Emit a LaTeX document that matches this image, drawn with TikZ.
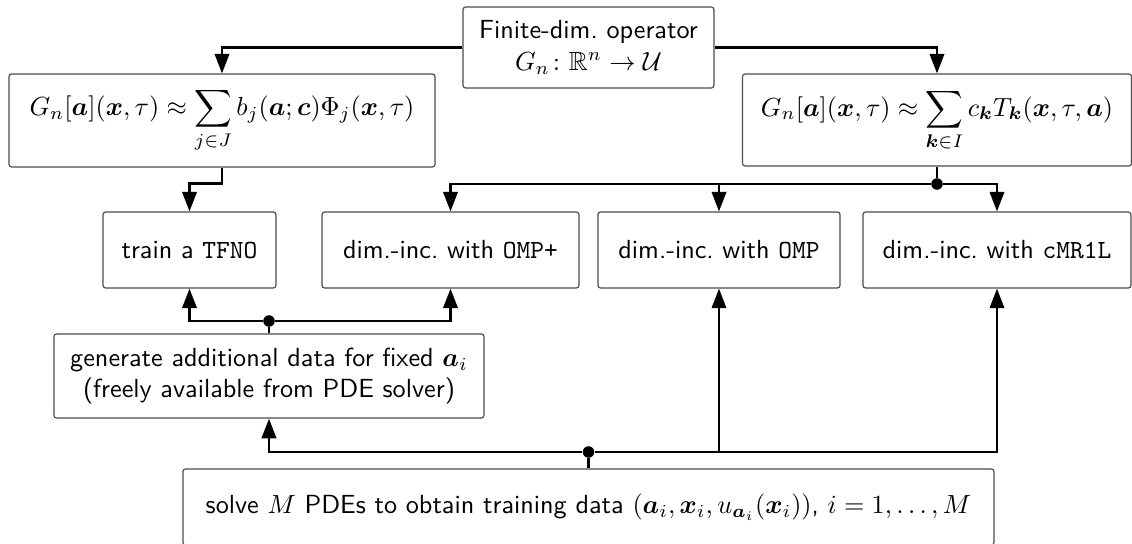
\documentclass[tikz,border=0pt]{standalone}
\usepackage{amsmath,amssymb,bm}
\usetikzlibrary{arrows.meta}

\begin{document}
\begin{tikzpicture}[x=0.3817pt, y=-0.3817pt,
    flowbox/.style={draw=black!70, rounded corners=1pt, line width=0.45pt,
                    align=center, inner sep=0pt, font=\sffamily},
    rowbox/.style={flowbox, minimum height=29pt},
    flowline/.style={line width=1pt},
    flowarrow/.style={flowline, -{Triangle[length=7.5pt,width=5.5pt]}},
    joint/.style={circle, fill=black, inner sep=0pt, minimum size=4.4pt}
  ]
    \useasboundingbox (0,0) rectangle (1132,543);

    % operator and the two expansions
    \node[flowbox, minimum width=95.8pt, minimum height=30.9pt] (op)
      at (588.5,47.5) {Finite-dim.\ operator\\$G_n\colon \mathbb{R}^n \to \mathcal{U}$};
    \node[flowbox, minimum width=162.6pt, minimum height=35.5pt] (ls)
      at (222,120.5)
      {$\displaystyle G_n[\bm{a}](\bm{x},\tau) \approx \sum_{j\in J} b_j(\bm{a};\bm{c})\Phi_j(\bm{x},\tau)$};
    \node[flowbox, minimum width=148.5pt, minimum height=35.1pt] (rs)
      at (937,120)
      {$\displaystyle G_n[\bm{a}](\bm{x},\tau) \approx \sum_{\bm{k}\in I} c_{\bm{k}} T_{\bm{k}}(\bm{x},\tau,\bm{a})$};

    % methods
    \node[rowbox, minimum width=66pt]    (tfno) at (189.5,250) {train a \texttt{TFNO}};
    \node[rowbox, minimum width=98.1pt]  (ompp) at (450.5,250) {dim.-inc.\ with \texttt{OMP+}};
    \node[rowbox, minimum width=92.4pt]  (omp)  at (719,250)   {dim.-inc.\ with \texttt{OMP}};
    \node[rowbox, minimum width=102.3pt] (cmr)  at (997,250)   {dim.-inc.\ with \texttt{cMR1L}};

    % data
    \node[flowbox, minimum width=164.1pt, minimum height=32.1pt] (gen)
      at (269,376)
      {generate additional data for fixed $\bm{a}_i$\\(freely available from PDE solver)};
    \node[flowbox, minimum width=309.6pt, minimum height=29pt] (solve)
      at (588.5,507)
      {solve $M$ PDEs to obtain training data $(\bm{a}_i,\bm{x}_i,u_{\bm{a}_i}(\bm{x}_i))$, $i=1,\dots,M$};

    \node[joint] (jr) at (937,184) {};
    \node[joint] (jg) at (269,321) {};
    \node[joint] (jb) at (588.5,452) {};

    \draw[flowarrow] (op.west) -| (ls.north);
    \draw[flowarrow] (op.east) -| (rs.north);
    \draw[flowarrow] (ls.south) -- ++(0,16) -| (tfno.north);

    \draw[flowline] (rs.south) -- (jr);
    \foreach \t in {ompp,omp,cmr}
      \draw[flowarrow] (jr) -| (\t.north);

    \draw[flowline] (gen.north) -- (jg);
    \foreach \t in {tfno,ompp}
      \draw[flowarrow] (jg) -| (\t.south);

    \draw[flowline] (solve.north) -- (jb);
    \foreach \t in {gen,omp,cmr}
      \draw[flowarrow] (jb) -| (\t.south);
\end{tikzpicture}
\end{document}
